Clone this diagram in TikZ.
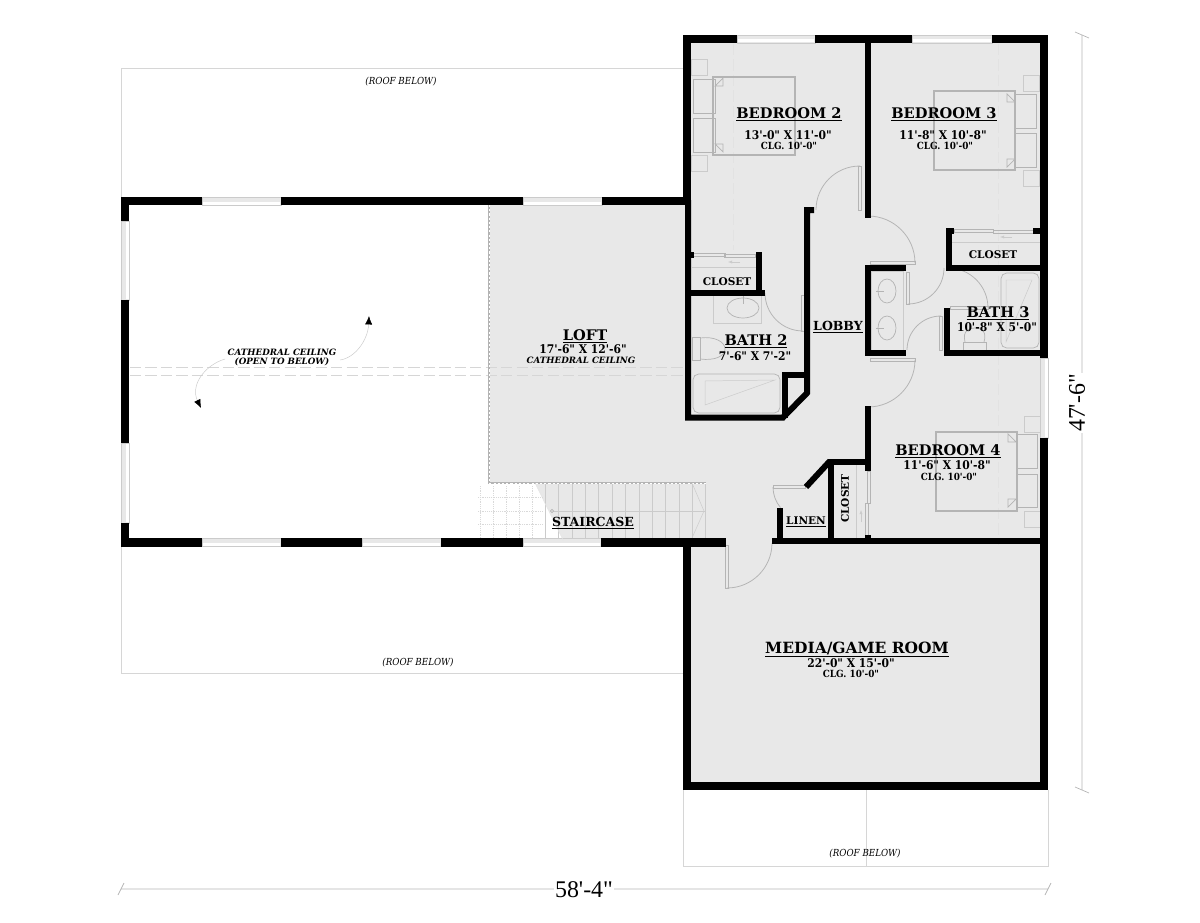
\documentclass[tikz,border=0pt]{standalone}
\usepackage{fontspec}
\usepackage{tikz}
\usetikzlibrary{arrows.meta}
\newfontfamily\slabfont{DejaVu Serif}
\newfontfamily\slabcond{DejaVu Serif Condensed}
\newfontfamily\dimfont{Liberation Serif}
\definecolor{floorgray}{HTML}{E8E8E8}
\definecolor{fixgray}{HTML}{B4B4B4}
\definecolor{roofgray}{HTML}{D6D6D6}
\tikzset{
	extwall/.style={line width=2.1mm,black},
	intwall/.style={line width=1.5mm,black},
	fixture/.style={draw=fixgray,line width=0.5pt},
	thinfix/.style={draw=fixgray!70,line width=0.35pt},
	doorline/.style={draw=fixgray,line width=0.55pt},
	roofline/.style={draw=roofgray,line width=0.55pt},
	ridge/.style={draw=roofgray,line width=0.45pt,dash pattern=on 8pt off 3pt},
	dimline/.style={draw=black!10,line width=0.8pt},
	roomtitle/.style={font=\slabfont\bfseries\fontsize{10.4}{11}\selectfont,inner sep=0pt,yshift=-1.2pt},
	smalltitle/.style={font=\slabfont\bfseries\fontsize{7.5}{8}\selectfont,inner sep=0pt,yshift=-0.4pt},
	midtitle/.style={font=\slabfont\bfseries\fontsize{8.9}{9}\selectfont,inner sep=0pt,yshift=-0.8pt},
	roomsize/.style={font=\slabcond\bfseries\fontsize{8.5}{9}\selectfont,inner sep=0pt},
	roomclg/.style={font=\slabcond\bfseries\fontsize{7}{8}\selectfont,inner sep=0pt,yshift=-0.8pt},
	roofnote/.style={font=\slabcond\itshape\fontsize{6.9}{7}\selectfont,inner sep=0pt,yshift=-0.6pt},
	cathnote/.style={font=\slabfont\bfseries\itshape\fontsize{6.2}{6}\selectfont,inner sep=0pt},
	dimtext/.style={font=\dimfont\fontsize{17}{18}\selectfont,fill=white,inner sep=1pt}
}
\begin{document}
\begin{tikzpicture}[x=0.25mm,y=-0.25mm]
	\useasboundingbox (0,0) rectangle (1200,923);
	% floor
	\fill[floorgray] (490,205)--(690,205)--(690,43)--(1040,43)--(1040,782)--(690,782)--(690,540)--(563,540)--(535,483)--(490,483)--cycle;
	% roofs below
	\draw[roofline] (121,197)--(121,68)--(683,68)--(683,197);
	\draw[roofline] (121,547)--(121,673)--(683,673);
	\draw[roofline] (683,790)--(683,866)--(1048,866)--(1048,790);
	\draw[roofline] (866,790)--(866,866);
	% dimensions
	\draw[dimline] (121,889)--(1048,889);
	\draw[dimline] (1082,35)--(1082,790);
	\foreach \xa in {121,1048}
		\draw[fixture] (\xa-3,895)--(\xa+3,883);
	\foreach \ya in {35,790}
		\draw[fixture] (1075,\ya-3)--(1089,\ya+3);
	\node[dimtext] (widthdim) at (584,890) {58'-4"};
	\node[dimtext,rotate=90] (heightdim) at (1077,403) {47'-6"};
	% ridge lines
	\foreach \ya in {367,375}
		\draw[ridge] (130,\ya)--(685,\ya);
	\draw[ridge,draw=roofgray!70] (998,44)--(998,545);
	\draw[ridge,draw=roofgray!70] (733,44)--(733,250);
	% windows
	\foreach \xa/\xb/\ya in {737/815/39,912/992/39,202/281/201,523/602/201,202/281/542.5,362/441/542.5,523/601/542.5}{
		\draw[thinfix,fill=floorgray] (\xa,\ya-4) rectangle (\xb,\ya+4);
		\fill[white] (\xa+1,\ya+0.5) rectangle (\xb-1,\ya+3.5);
	}
	\foreach \ya/\yb/\xa in {221/300/125,443/523/125,358/438/1044.5}{
		\draw[thinfix,fill=floorgray] (\xa-4,\ya) rectangle (\xa+4,\yb);
		\fill[white] (\xa+0.5,\ya+1) rectangle (\xa+3.5,\yb-1);
	}
	% beds
	\draw[fixture,line width=0.9pt] (713,77) rectangle (795,155);
	\draw[fixture] (693,79) rectangle (715,113);
	\draw[fixture] (693,118) rectangle (715,152);
	\draw[thinfix] (691,59) rectangle (707,75);
	\draw[thinfix] (691,155) rectangle (707,171);
	\draw[fixture] (715,86)--(723,78)--(723,86)--cycle;
	\draw[fixture] (715,144)--(723,152)--(723,144)--cycle;
	\draw[fixture,line width=0.9pt] (934,91) rectangle (1015,170);
	\draw[fixture] (1015,94) rectangle (1036,128);
	\draw[fixture] (1015,133) rectangle (1036,167);
	\draw[thinfix] (1023,75) rectangle (1039,91);
	\draw[thinfix] (1023,170) rectangle (1039,186);
	\draw[fixture] (1015,102)--(1007,94)--(1007,102)--cycle;
	\draw[fixture] (1015,159)--(1007,167)--(1007,159)--cycle;
	\draw[fixture,line width=0.9pt] (936,432) rectangle (1017,511);
	\draw[fixture] (1016,434) rectangle (1037,468);
	\draw[fixture] (1016,474) rectangle (1037,507);
	\draw[thinfix] (1024,416) rectangle (1040,432);
	\draw[thinfix] (1024,511) rectangle (1040,527);
	\draw[fixture] (1016,442)--(1008,434)--(1008,442)--cycle;
	\draw[fixture] (1016,499)--(1008,507)--(1008,499)--cycle;
	% bath 2
	\draw[thinfix] (713,295) rectangle (761,323);
	\draw[fixture] (743,308) ellipse (16 and 10);
	\draw[fixture] (743,296)--(743,304);
	\draw[fixture] (692,337) rectangle (700,360);
	\draw[fixture] (700,338) .. controls (715,336) and (725,342) .. (725,349) .. controls (725,356) and (715,361) .. (700,359);
	\draw[fixture,rounded corners=4pt] (693,374) rectangle (780,413);
	\draw[thinfix] (705,381)--(775,380)--(705,405)--cycle;
	% vanity and bath 3
	\draw[thinfix] (871,271) rectangle (903,350);
	\foreach \ya in {291,328}{
		\draw[fixture] (887,\ya) ellipse (9 and 12);
		\draw[fixture] (876,\ya)--(884,\ya);
	}
	\draw[fixture,rounded corners=4pt] (1001,273) rectangle (1039,348);
	\draw[thinfix] (1006,280)--(1032,280)--(1006,342)--cycle;
	\draw[fixture] (963,342) rectangle (986,350);
	\draw[fixture] (965,342) .. controls (962,330) and (970,328) .. (975,328) .. controls (982,328) and (987,332) .. (984,342);
	% closets
	\draw[fixture] (693,253) rectangle (725,256);
	\draw[fixture] (724,254) rectangle (755,257);
	\draw[thinfix] (692,267)--(756,267);
	\draw[thinfix,-{Latex[length=3pt]}] (740,262)--(728,262);
	\draw[fixture] (954,229) rectangle (993,232);
	\draw[fixture] (993,230) rectangle (1033,233);
	\draw[thinfix] (952,242)--(1040,242);
	\draw[thinfix,-{Latex[length=3pt]}] (1012,237)--(1000,237);
	\draw[fixture] (867,471) rectangle (870,503);
	\draw[fixture] (865,503) rectangle (868,535);
	\draw[thinfix] (856,465)--(856,538);
	\draw[thinfix,-{Latex[length=3pt]}] (861,522)--(861,510);
	% doors
	\draw[doorline] (858,166) rectangle (861,210);
	\draw[doorline] (860,166) arc[start angle=-90,end angle=-180,radius=44];
	\draw[doorline] (870,261.5) rectangle (915,264.5);
	\draw[doorline] (915,263) arc[start angle=0,end angle=-90,radius=47];
	\draw[doorline] (906.5,272) rectangle (909.5,304);
	\draw[doorline] (908,304) arc[start angle=90,end angle=0,radius=36];
	\draw[doorline] (939.5,316) rectangle (942.5,350);
	\draw[doorline] (941,316) arc[start angle=-90,end angle=-180,radius=34];
	\draw[doorline] (950,306.5) rectangle (988,309.5);
	\draw[doorline] (988,308) arc[start angle=0,end angle=-90,radius=40];
	\draw[doorline] (801.5,295) rectangle (804.5,331);
	\draw[doorline] (803,331) arc[start angle=90,end angle=180,radius=38];
	\draw[doorline] (870,358.5) rectangle (915,361.5);
	\draw[doorline] (915,360) arc[start angle=0,end angle=90,radius=47];
	\draw[doorline] (725.5,545) rectangle (728.5,588);
	\draw[doorline] (727,588) arc[start angle=90,end angle=0,radius=45];
	\draw[doorline] (773,485.5) rectangle (805,488.5);
	\draw[doorline] (773,487) arc[start angle=180,end angle=140,radius=32];
	% railing and staircase
	\draw[fixgray,line width=1.6pt] (489,205)--(489,483)--(706,483);
	\draw[white,line width=0.4pt,dash pattern=on 1.5pt off 1.5pt] (489,205)--(489,483)--(706,483);
	\foreach \xa in {545,558,572,585,598,612,625,639,652,665,679,692,705}
		\draw[thinfix] (\xa,484)--(\xa,538);
	\draw[thinfix] (552,511)--(705,511);
	\draw[thinfix] (692,483)--(704,511)--(692,538);
	\draw[fixture,fill=floorgray] (552,511) circle (1.6);
	\draw[draw=roofgray!60,line width=0.3pt] (535,483)--(563,540);
	\foreach \xa in {480,493,506,519,532}
		\draw[draw=black!15,line width=0.3pt,densely dotted] (\xa,486)--(\xa,538);
	\foreach \ya in {497,511,524}
		\draw[draw=black!15,line width=0.3pt,densely dotted] (478,\ya)--(542,\ya);
	% exterior walls
	\draw[extwall] (125,221)--(125,201)--(202,201);
	\draw[extwall] (281,201)--(523,201);
	\draw[extwall] (602,201)--(687,201);
	\draw[extwall] (125,300)--(125,443);
	\draw[extwall] (125,523)--(125,542.5)--(202,542.5);
	\draw[extwall] (281,542.5)--(362,542.5);
	\draw[extwall] (441,542.5)--(523,542.5);
	\draw[extwall] (601,542.5)--(726,542.5);
	\draw[extwall] (737,39)--(687,39)--(687,205);
	\draw[extwall] (815,39)--(912,39);
	\draw[extwall] (992,39)--(1044,39)--(1044,358);
	\draw[extwall] (1044,438)--(1044,786)--(687,786)--(687,542);
	% interior walls
	\draw[intwall] (688,200)--(688,417.5)--(783,417.5)--(807,393)--(807,210)--(814,210);
	\draw[intwall] (868,43)--(868,218);
	\draw[intwall] (691,292.5)--(765,292.5);
	\draw[intwall] (759,252)--(759,295);
	\draw[intwall] (690,254.5)--(694,254.5);
	\draw[intwall] (785,418)--(785,375)--(807,375);
	\draw[intwall] (906,268)--(868,268)--(868,353)--(906,353);
	\draw[intwall] (954,231)--(949,231)--(949,268)--(1041,268);
	\draw[intwall] (1033,231)--(1041,231);
	\draw[intwall] (1041,353)--(947,353)--(947,311)--(950,311);
	\draw[intwall] (868,406)--(868,471);
	\draw[intwall] (868,535)--(868,544);
	\draw[intwall] (772,541)--(1041,541);
	\draw[intwall] (779.5,508)--(779.5,541);
	\draw[intwall] (831,541)--(831,461.5)--(871,461.5);
	\draw[intwall] (830,461)--(806,487);
	% open to below arrows
	\draw[thinfix,-{Latex[black,length=6pt,width=5pt]}] (340,360) .. controls (355,358) and (368,340) .. (369,316);
	\draw[thinfix,-{Latex[black,length=6pt,width=5pt]}] (225,359) .. controls (205,365) and (190,385) .. (201,408);
	% labels
	\node[roomtitle] (bedroomtwo) at (789,113) {\underline{BEDROOM 2}};
	\node[roomsize] (bedroomtwosize) at (788,135) {13'-0" X 11'-0"};
	\node[roomclg] (bedroomtwoclg) at (789,145) {CLG. 10'-0"};
	\node[roomtitle] (bedroomthree) at (944,113) {\underline{BEDROOM 3}};
	\node[roomsize] (bedroomthreesize) at (943,135) {11'-8" X 10'-8"};
	\node[roomclg] (bedroomthreeclg) at (945,145) {CLG. 10'-0"};
	\node[roomtitle] (bedroomfour) at (948,450) {\underline{BEDROOM 4}};
	\node[roomsize] (bedroomfoursize) at (947,465) {11'-6" X 10'-8"};
	\node[roomclg] (bedroomfourclg) at (949,476) {CLG. 10'-0"};
	\node[smalltitle] (closettwo) at (727,281) {CLOSET};
	\node[smalltitle] (closetthree) at (993,254) {CLOSET};
	\node[roomtitle] (bathtwo) at (756,340) {\underline{BATH 2}};
	\node[roomsize] (bathtwosize) at (755,356) {7'-6" X 7'-2"};
	\node[roomtitle] (baththree) at (998,312) {\underline{BATH 3}};
	\node[roomsize] (baththreesize) at (997,327) {10'-8" X 5'-0"};
	\node[midtitle] (lobby) at (838,326) {\underline{LOBBY}};
	\node[roomtitle] (loft) at (585,335) {\underline{LOFT}};
	\node[roomsize] (loftsize) at (583,349) {17'-6" X 12'-6"};
	\node[cathnote] (loftnote) at (581,360) {CATHEDRAL CEILING};
	\node[smalltitle] (linen) at (806,521) {\underline{LINEN}};
	\node[smalltitle,rotate=90] (closetfour) at (845,498) {CLOSET};
	\node[midtitle] (staircase) at (593,522) {\underline{STAIRCASE}};
	\node[roomtitle,font=\slabfont\bfseries\fontsize{11}{12}\selectfont] (mediaroom) at (857,648) {\underline{MEDIA/GAME ROOM}};
	\node[roomsize] (mediasize) at (851,663) {22'-0" X 15'-0"};
	\node[roomclg] (mediaclg) at (851,673) {CLG. 10'-0"};
	\node[roofnote] (rooftop) at (401,81) {(ROOF BELOW)};
	\node[roofnote] (roofleft) at (418,662) {(ROOF BELOW)};
	\node[roofnote] (roofbottom) at (865,853) {(ROOF BELOW)};
	\node[cathnote] (cathone) at (282,352.5) {CATHEDRAL CEILING};
	\node[cathnote] (cathtwo) at (282,361.5) {(OPEN TO BELOW)};
\end{tikzpicture}
\end{document}
